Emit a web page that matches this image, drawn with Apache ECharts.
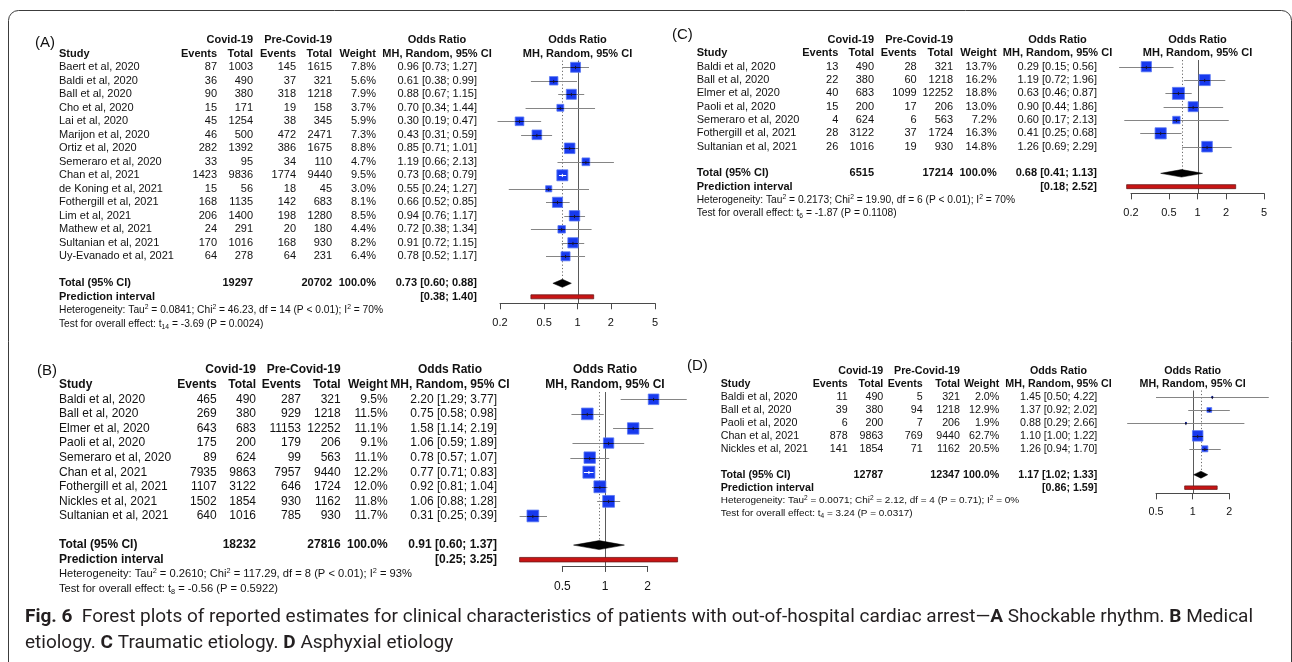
<!DOCTYPE html>
<html>
<head>
<meta charset="utf-8">
<script src="https://cdn.jsdelivr.net/npm/echarts@6/dist/echarts.min.js"></script>
<style>
  html, body { margin: 0; padding: 0; background: #ffffff; }
  #chart { width: 1292px; height: 662px; }
</style>
</head>
<body>
<div id="chart"></div>
<script>
// ---------- (A) Shockable rhythm ----------
const studiesA = ['Baert et al, 2020', 'Baldi et al, 2020', 'Ball et al, 2020', 'Cho et al, 2020', 'Lai et al, 2020',
  'Marijon et al, 2020', 'Ortiz et al, 2020', 'Semeraro et al, 2020', 'Chan et al, 2021', 'de Koning et al, 2021',
  'Fothergill et al, 2021', 'Lim et al, 2021', 'Mathew et al, 2021', 'Sultanian et al, 2021', 'Uy-Evanado et al, 2021'];
const eventsCovidA = [87, 36, 90, 15, 45, 46, 282, 33, 1423, 15, 168, 206, 24, 170, 64];
const totalCovidA = [1003, 490, 380, 171, 1254, 500, 1392, 95, 9836, 56, 1135, 1400, 291, 1016, 278];
const eventsPreA = [145, 37, 318, 19, 38, 472, 386, 34, 1774, 18, 142, 198, 20, 168, 64];
const totalPreA = [1615, 321, 1218, 158, 345, 2471, 1675, 110, 9440, 45, 683, 1280, 180, 930, 231];
const weightA = [7.8, 5.6, 7.9, 3.7, 5.9, 7.3, 8.8, 4.7, 9.5, 3.0, 8.1, 8.5, 4.4, 8.2, 6.4];
const oddsA = [0.96, 0.61, 0.88, 0.70, 0.30, 0.43, 0.85, 1.19, 0.73, 0.55, 0.66, 0.94, 0.72, 0.91, 0.78];
const lowerA = [0.73, 0.38, 0.67, 0.34, 0.19, 0.31, 0.71, 0.66, 0.68, 0.24, 0.52, 0.76, 0.38, 0.72, 0.52];
const upperA = [1.27, 0.99, 1.15, 1.44, 0.47, 0.59, 1.01, 2.13, 0.79, 1.27, 0.85, 1.17, 1.34, 1.15, 1.17];
const pooledA = [0.73, 0.60, 0.88];
const predictA = [0.38, 1.40];
const sumTotalsA = [19297, 20702];
const hetA = ['0.0841', '46.23', '14', 'P < 0.01', '70%'];
const testA = ['14', '-3.69', '0.0024'];
const ticksA = [0.2, 0.5, 1, 2, 5];

// ---------- (B) Medical etiology ----------
const studiesB = ['Baldi et al, 2020', 'Ball et al, 2020', 'Elmer et al, 2020', 'Paoli et al, 2020', 'Semeraro et al, 2020',
  'Chan et al, 2021', 'Fothergill et al, 2021', 'Nickles et al, 2021', 'Sultanian et al, 2021'];
const eventsCovidB = [465, 269, 643, 175, 89, 7935, 1107, 1502, 640];
const totalCovidB = [490, 380, 683, 200, 624, 9863, 3122, 1854, 1016];
const eventsPreB = [287, 929, 11153, 179, 99, 7957, 646, 930, 785];
const totalPreB = [321, 1218, 12252, 206, 563, 9440, 1724, 1162, 930];
const weightB = [9.5, 11.5, 11.1, 9.1, 11.1, 12.2, 12.0, 11.8, 11.7];
const oddsB = [2.20, 0.75, 1.58, 1.06, 0.78, 0.77, 0.92, 1.06, 0.31];
const lowerB = [1.29, 0.58, 1.14, 0.59, 0.57, 0.71, 0.81, 0.88, 0.25];
const upperB = [3.77, 0.98, 2.19, 1.89, 1.07, 0.83, 1.04, 1.28, 0.39];
const pooledB = [0.91, 0.60, 1.37];
const predictB = [0.25, 3.25];
const sumTotalsB = [18232, 27816];
const hetB = ['0.2610', '117.29', '8', 'P < 0.01', '93%'];
const testB = ['8', '-0.56', '0.5922'];
const ticksB = [0.5, 1, 2];

// ---------- (C) Traumatic etiology ----------
const studiesC = ['Baldi et al, 2020', 'Ball et al, 2020', 'Elmer et al, 2020', 'Paoli et al, 2020', 'Semeraro et al, 2020',
  'Fothergill et al, 2021', 'Sultanian et al, 2021'];
const eventsCovidC = [13, 22, 40, 15, 4, 28, 26];
const totalCovidC = [490, 380, 683, 200, 624, 3122, 1016];
const eventsPreC = [28, 60, 1099, 17, 6, 37, 19];
const totalPreC = [321, 1218, 12252, 206, 563, 1724, 930];
const weightC = [13.7, 16.2, 18.8, 13.0, 7.2, 16.3, 14.8];
const oddsC = [0.29, 1.19, 0.63, 0.90, 0.60, 0.41, 1.26];
const lowerC = [0.15, 0.72, 0.46, 0.44, 0.17, 0.25, 0.69];
const upperC = [0.56, 1.96, 0.87, 1.86, 2.13, 0.68, 2.29];
const pooledC = [0.68, 0.41, 1.13];
const predictC = [0.18, 2.52];
const sumTotalsC = [6515, 17214];
const hetC = ['0.2173', '19.90', '6', 'P < 0.01', '70%'];
const testC = ['6', '-1.87', '0.1108'];
const ticksC = [0.2, 0.5, 1, 2, 5];

// ---------- (D) Asphyxial etiology ----------
const studiesD = ['Baldi et al, 2020', 'Ball et al, 2020', 'Paoli et al, 2020', 'Chan et al, 2021', 'Nickles et al, 2021'];
const eventsCovidD = [11, 39, 6, 878, 141];
const totalCovidD = [490, 380, 200, 9863, 1854];
const eventsPreD = [5, 94, 7, 769, 71];
const totalPreD = [321, 1218, 206, 9440, 1162];
const weightD = [2.0, 12.9, 1.9, 62.7, 20.5];
const oddsD = [1.45, 1.37, 0.88, 1.10, 1.26];
const lowerD = [0.50, 0.92, 0.29, 1.00, 0.94];
const upperD = [4.22, 2.02, 2.66, 1.22, 1.70];
const pooledD = [1.17, 1.02, 1.33];
const predictD = [0.86, 1.59];
const sumTotalsD = [12787, 12347];
const hetD = ['0.0071', '2.12', '4', 'P = 0.71', '0%'];
const testD = ['4', '3.24', '0.0317'];
const ticksD = [0.5, 1, 2];

// ---------- styling ----------
const FONT = "'Liberation Sans', Arial, Helvetica, sans-serif";
const CAP_FONT = "Roboto, 'Open Sans', sans-serif";
const INK = '#111111';
const SQUARE = '#1739ee';
const SQUARE_EDGE = '#5a78f4';
const CI_LINE = '#858585';

// Page layout of each panel: table columns (right edges for numbers), plot extent and row pitch.
const layouts = {
  A: { tag: ['(A)', 35, 42.5], left: 500, right: 655, rowY1: 67.3, step: 13.5, axisRow: 18.48, font: 11,
       cols: { name: 59, ev1: 217, tot1: 253, ev2: 296, tot2: 332, wt: 376, or: 477, orHead: 437 },
       sqMax: 11, diamondH: 8, predH: 4, labelMargin: 14 },
  B: { tag: ['(B)', 37, 370.7], left: 562.3, right: 647.7, rowY1: 399.3, step: 14.58, axisRow: 12.43, font: 12,
       cols: { name: 59, ev1: 216.7, tot1: 256, ev2: 301, tot2: 340.7, wt: 387.7, or: 497, orHead: 450 },
       sqMax: 12, diamondH: 9, predH: 4.5, labelMargin: 15 },
  C: { tag: ['(C)', 672, 35], left: 1131, right: 1264, rowY1: 66.7, step: 13.33, axisRow: 10.5, font: 11,
       cols: { name: 696.7, ev1: 838.3, tot1: 874, ev2: 916.7, tot2: 953, wt: 996.7, or: 1097, orHead: 1057.5 },
       sqMax: 12, diamondH: 7.5, predH: 4, labelMargin: 14 },
  D: { tag: ['(D)', 687, 366], left: 1156, right: 1229.3, rowY1: 397, step: 12.95, axisRow: 8.44, font: 10.7,
       cols: { name: 720.7, ev1: 847.7, tot1: 883.3, ev2: 922.7, tot2: 960, wt: 999.3, or: 1097.3, orHead: 1058.5 },
       sqMax: 10.5, diamondH: 7, predH: 3.5, labelMargin: 13.5 }
};

const panels = [
  { id: 'A', studies: studiesA, evC: eventsCovidA, totC: totalCovidA, evP: eventsPreA, totP: totalPreA, w: weightA,
    or: oddsA, lo: lowerA, hi: upperA, pooled: pooledA, pred: predictA, totals: sumTotalsA, het: hetA, test: testA, ticks: ticksA },
  { id: 'B', studies: studiesB, evC: eventsCovidB, totC: totalCovidB, evP: eventsPreB, totP: totalPreB, w: weightB,
    or: oddsB, lo: lowerB, hi: upperB, pooled: pooledB, pred: predictB, totals: sumTotalsB, het: hetB, test: testB, ticks: ticksB },
  { id: 'C', studies: studiesC, evC: eventsCovidC, totC: totalCovidC, evP: eventsPreC, totP: totalPreC, w: weightC,
    or: oddsC, lo: lowerC, hi: upperC, pooled: pooledC, pred: predictC, totals: sumTotalsC, het: hetC, test: testC, ticks: ticksC },
  { id: 'D', studies: studiesD, evC: eventsCovidD, totC: totalCovidD, evP: eventsPreD, totP: totalPreD, w: weightD,
    or: oddsD, lo: lowerD, hi: upperD, pooled: pooledD, pred: predictD, totals: sumTotalsD, het: hetD, test: testD, ticks: ticksD }
];

const f2 = v => v.toFixed(2);
const ciText = (lo, hi) => '[' + f2(lo) + '; ' + f2(hi) + ']';
const orText = (o, lo, hi) => f2(o) + ' ' + ciText(lo, hi);

// Rows of the text table (row index on the panel's y axis, cells placed on fixed columns).
function tableRows(p, L) {
  const c = L.cols, n = p.studies.length, mid = (L.left + L.right) / 2;
  const rows = [];
  rows.push({ row: -1, cells: [
    { x: c.tot1, t: 'Covid-19', a: 'right', b: true },
    { x: c.tot2, t: 'Pre-Covid-19', a: 'right', b: true },
    { x: c.orHead, t: 'Odds Ratio', a: 'center', b: true },
    { x: mid, t: 'Odds Ratio', a: 'center', b: true }] });
  rows.push({ row: 0, cells: [
    { x: c.name, t: 'Study', a: 'left', b: true },
    { x: c.ev1, t: 'Events', a: 'right', b: true },
    { x: c.tot1, t: 'Total', a: 'right', b: true },
    { x: c.ev2, t: 'Events', a: 'right', b: true },
    { x: c.tot2, t: 'Total', a: 'right', b: true },
    { x: c.wt, t: 'Weight', a: 'right', b: true },
    { x: c.orHead, t: 'MH, Random, 95% CI', a: 'center', b: true },
    { x: mid, t: 'MH, Random, 95% CI', a: 'center', b: true }] });
  for (let i = 0; i < n; i++) {
    rows.push({ row: i + 1, cells: [
      { x: c.name, t: p.studies[i], a: 'left' },
      { x: c.ev1, t: String(p.evC[i]), a: 'right' },
      { x: c.tot1, t: String(p.totC[i]), a: 'right' },
      { x: c.ev2, t: String(p.evP[i]), a: 'right' },
      { x: c.tot2, t: String(p.totP[i]), a: 'right' },
      { x: c.wt, t: p.w[i].toFixed(1) + '%', a: 'right' },
      { x: c.or, t: orText(p.or[i], p.lo[i], p.hi[i]), a: 'right' }] });
  }
  rows.push({ row: n + 2, cells: [
    { x: c.name, t: 'Total (95% CI)', a: 'left', b: true },
    { x: c.tot1, t: String(p.totals[0]), a: 'right', b: true },
    { x: c.tot2, t: String(p.totals[1]), a: 'right', b: true },
    { x: c.wt, t: '100.0%', a: 'right', b: true },
    { x: c.or, t: orText(p.pooled[0], p.pooled[1], p.pooled[2]), a: 'right', b: true }] });
  rows.push({ row: n + 3, cells: [
    { x: c.name, t: 'Prediction interval', a: 'left', b: true },
    { x: c.or, t: ciText(p.pred[0], p.pred[1]), a: 'right', b: true }] });
  const h = p.het;
  rows.push({ row: n + 4, cells: [
    { x: c.name, a: 'left', rich: true,
      t: '{n|Heterogeneity: Tau}{sup|2}{n| = ' + h[0] + '; Chi}{sup|2}{n| = ' + h[1] + ', df = ' + h[2] +
         ' (' + h[3] + '); I}{sup|2}{n| = ' + h[4] + '}' }] });
  const t = p.test;
  rows.push({ row: n + 5, cells: [
    { x: c.name, a: 'left', rich: true,
      t: '{n|Test for overall effect: t}{sub|' + t[0] + '}{n| = ' + t[1] + ' (P = ' + t[2] + ')}' }] });
  return rows;
}

function textEl(cell, y, L) {
  const fs = L.font;
  if (cell.rich) {
    const hs = fs * 0.93;
    return { type: 'text', x: cell.x, y: y, style: {
      text: cell.t, align: 'left', verticalAlign: 'middle', fill: INK, fontFamily: FONT, fontSize: hs,
      rich: {
        n: { fontSize: hs, fontFamily: FONT, fill: INK, lineHeight: hs * 1.25, verticalAlign: 'middle' },
        sup: { fontSize: hs * 0.66, fontFamily: FONT, fill: INK, verticalAlign: 'top' },
        sub: { fontSize: hs * 0.66, fontFamily: FONT, fill: INK, verticalAlign: 'bottom' }
      } } };
  }
  return { type: 'text', x: cell.x, y: y, style: {
    text: cell.t, align: cell.a, verticalAlign: 'middle', fill: INK,
    fontFamily: FONT, fontSize: fs, fontWeight: cell.b ? 'bold' : 'normal' } };
}

const grids = [], xAxes = [], yAxes = [], series = [], graphics = [];

panels.forEach((p, k) => {
  const L = layouts[p.id];
  const n = p.studies.length;
  const top = L.rowY1 - 0.5 * L.step;
  const height = (L.axisRow - 0.5) * L.step;
  const maxW = Math.max.apply(null, p.w);
  const totalRow = n + 2, predRow = n + 3;

  grids.push({ left: L.left, top: top, width: L.right - L.left, height: height,
               containLabel: false, outerBoundsMode: 'none', show: false });
  xAxes.push({
    type: 'log', logBase: 10, gridIndex: k, position: 'bottom',
    min: p.ticks[0], max: p.ticks[p.ticks.length - 1],
    axisLine: { show: true, onZero: false, lineStyle: { color: '#4a4a4a', width: 1 } },
    axisTick: { show: true, inside: false, length: 6, customValues: p.ticks, lineStyle: { color: '#4a4a4a', width: 1 } },
    axisLabel: { show: true, customValues: p.ticks, margin: L.labelMargin, fontSize: L.font, fontFamily: FONT,
                 color: INK, formatter: v => String(+(+v).toFixed(2)) },
    splitLine: { show: false }, minorTick: { show: false }, minorSplitLine: { show: false }
  });
  yAxes.push({ type: 'value', gridIndex: k, min: 0.5, max: L.axisRow, inverse: true, show: false });

  const common = { type: 'custom', coordinateSystem: 'cartesian2d', xAxisIndex: k, yAxisIndex: k,
                   clip: false, silent: true, animation: false };

  // reference lines: no effect (OR = 1, solid) and pooled estimate (dotted)
  series.push(Object.assign({}, common, {
    data: [[1, 0.5, L.axisRow, 0], [p.pooled[0], 0.5, totalRow, 1]],
    renderItem: (params, api) => {
      const a = api.coord([api.value(0), api.value(1)]);
      const b = api.coord([api.value(0), api.value(2)]);
      const x = Math.round(a[0]) + 0.5;
      const dotted = api.value(3) === 1;
      return { type: 'line', shape: { x1: x, y1: a[1], x2: x, y2: b[1] },
               style: { stroke: dotted ? '#6a6a6a' : '#5a5a5a', lineWidth: 1, lineDash: dotted ? [1.2, 2.2] : null } };
    }
  }));

  // study estimates: CI whisker, weight-sized square, inner segment
  series.push(Object.assign({}, common, {
    data: p.studies.map((s, i) => [p.or[i], i + 1, p.lo[i], p.hi[i], p.w[i]]),
    renderItem: (params, api) => {
      const c = api.coord([api.value(0), api.value(1)]);
      const pl = api.coord([api.value(2), api.value(1)]);
      const ph = api.coord([api.value(3), api.value(1)]);
      const s = L.sqMax * Math.sqrt(api.value(4) / maxW);
      const y = Math.round(c[1]) + 0.5;
      const inside = pl[0] >= c[0] - s / 2 && ph[0] <= c[0] + s / 2;
      const x0 = Math.max(pl[0], c[0] - s / 2), x1 = Math.min(ph[0], c[0] + s / 2);
      const innerCol = inside ? '#ffffff' : '#14143a';
      return { type: 'group', children: [
        { type: 'line', shape: { x1: pl[0], y1: y, x2: ph[0], y2: y }, style: { stroke: CI_LINE, lineWidth: 1 } },
        { type: 'rect', shape: { x: c[0] - s / 2, y: c[1] - s / 2, width: s, height: s },
          style: { fill: SQUARE, stroke: SQUARE_EDGE, lineWidth: s > 3 ? 0.8 : 0 } },
        { type: 'line', shape: { x1: x0, y1: y, x2: x1, y2: y }, style: { stroke: innerCol, lineWidth: 1 } },
        { type: 'line', shape: { x1: c[0], y1: y - 1.6, x2: c[0], y2: y + 1.6 }, style: { stroke: innerCol, lineWidth: 1 } }
      ] };
    }
  }));

  // pooled estimate diamond
  series.push(Object.assign({}, common, {
    data: [[p.pooled[0], totalRow, p.pooled[1], p.pooled[2]]],
    renderItem: (params, api) => {
      const c = api.coord([api.value(0), api.value(1)]);
      const l = api.coord([api.value(2), api.value(1)]);
      const r = api.coord([api.value(3), api.value(1)]);
      const h = L.diamondH / 2;
      return { type: 'polygon', shape: { points: [[l[0], c[1]], [c[0], c[1] - h], [r[0], c[1]], [c[0], c[1] + h]] },
               style: { fill: '#000000', stroke: '#000000', lineWidth: 0.5 } };
    }
  }));

  // prediction interval bar
  series.push(Object.assign({}, common, {
    data: [[p.pred[0], predRow, p.pred[1]]],
    renderItem: (params, api) => {
      const a = api.coord([api.value(0), api.value(1)]);
      const b = api.coord([api.value(2), api.value(1)]);
      const h = L.predH;
      return { type: 'rect', shape: { x: a[0], y: a[1] - h / 2, width: b[0] - a[0], height: h },
               style: { fill: '#c81414', stroke: '#6b1a1a', lineWidth: 0.8 } };
    }
  }));

  // table text, each row placed at its y-axis position
  const rows = tableRows(p, L);
  series.push(Object.assign({}, common, {
    data: rows.map(r => [1, r.row]),
    renderItem: (params, api) => {
      const r = rows[params.dataIndex];
      const y = api.coord([1, api.value(1)])[1];
      return { type: 'group', children: r.cells.map(cell => textEl(cell, y, L)) };
    }
  }));

  graphics.push({ type: 'text', x: L.tag[1], y: L.tag[2], silent: true,
    style: { text: L.tag[0], fill: INK, fontFamily: FONT, fontSize: 15, align: 'left', verticalAlign: 'middle' } });
});

// Figure caption
const captionLine1 = [['b', 'Fig. 6'], ['r', '  Forest plots of reported estimates for clinical characteristics of patients with out-of-hospital cardiac arrest\u2014'],
  ['b', 'A'], ['r', ' Shockable rhythm. '], ['b', 'B'], ['r', ' Medical']];
const captionLine2 = [['r', 'etiology. '], ['b', 'C'], ['r', ' Traumatic etiology. '], ['b', 'D'], ['r', ' Asphyxial etiology']];

const measureCtx = document.createElement('canvas').getContext('2d');
function lineWidthAt(parts, size) {
  return parts.reduce((acc, pt) => {
    measureCtx.font = (pt[0] === 'b' ? 'bold ' : '') + size + 'px ' + CAP_FONT;
    return acc + measureCtx.measureText(pt[1]).width;
  }, 0);
}
// caption size chosen so the first line runs to the right margin
const capSize = Math.max(13, Math.min(19, 16 * 1237 / lineWidthAt(captionLine1, 16)));
const capRich = {
  b: { fontFamily: CAP_FONT, fontSize: capSize, fontWeight: 'bold', fill: '#231f20' },
  r: { fontFamily: CAP_FONT, fontSize: capSize, fill: '#231f20' }
};
const richText = parts => parts.map(pt => '{' + pt[0] + '|' + pt[1] + '}').join('');
graphics.push({ type: 'text', x: 25, y: 617, silent: true,
  style: { text: richText(captionLine1), rich: capRich, verticalAlign: 'middle', align: 'left' } });
graphics.push({ type: 'text', x: 25, y: 643.5, silent: true,
  style: { text: richText(captionLine2), rich: capRich, verticalAlign: 'middle', align: 'left' } });

// rounded figure frame
graphics.unshift({ type: 'rect', silent: true, shape: { x: 8.5, y: 10.5, width: 1283, height: 700, r: 10 },
  style: { fill: 'none', stroke: '#3c3c3c', lineWidth: 1 } });

const chart = echarts.init(document.getElementById('chart'), null, { renderer: 'canvas', width: 1292, height: 662 });
chart.setOption({
  animation: false,
  backgroundColor: '#ffffff',
  grid: grids,
  xAxis: xAxes,
  yAxis: yAxes,
  series: series,
  graphic: graphics
});
</script>
</body>
</html>
